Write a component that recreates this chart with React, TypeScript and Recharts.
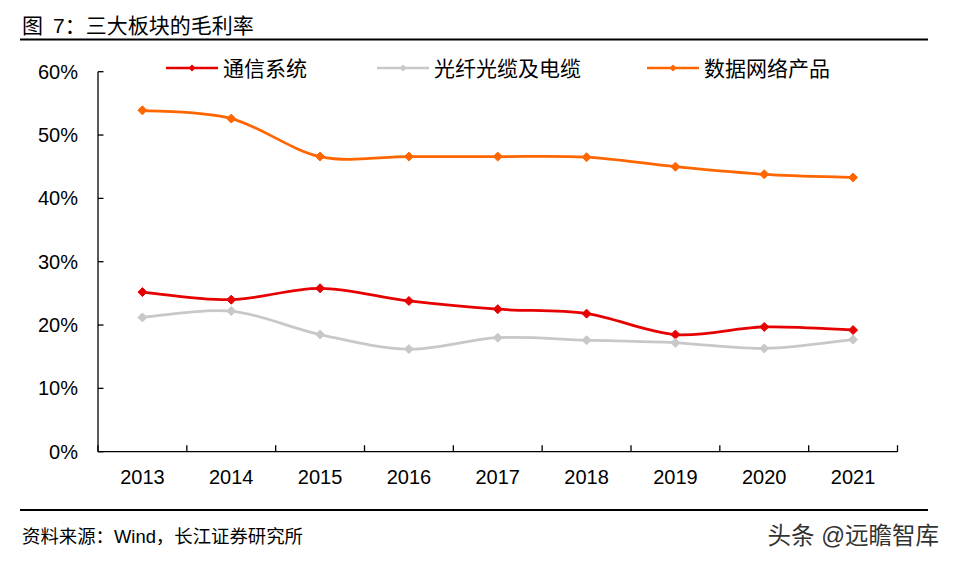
import React from 'react';
import { LineChart, Line, XAxis, YAxis, Legend } from 'recharts';

const years = ['2013', '2014', '2015', '2016', '2017', '2018', '2019', '2020', '2021'];
const commSystem = [25.2, 24.0, 25.8, 23.8, 22.5, 21.8, 18.5, 19.7, 19.2];
const fiberCable = [21.2, 22.2, 18.5, 16.2, 18.0, 17.6, 17.2, 16.3, 17.7];
const dataNetwork = [53.9, 52.6, 46.6, 46.6, 46.6, 46.5, 45.0, 43.8, 43.3];
const yTicks = [0, 10, 20, 30, 40, 50, 60];
const seriesNames = ['通信系统', '光纤光缆及电缆', '数据网络产品'];
const seriesColors = ['#E60000', '#C8C8C8', '#FF6600'];

const data = years.map((year, i) => ({
  idx: i,
  year,
  comm: commSystem[i],
  fiber: fiberCable[i],
  dataNet: dataNetwork[i],
}));

const xTicks: number[] = [];
years.forEach((_, i) => {
  xTicks.push(i - 0.5);
  xTicks.push(i);
});
xTicks.push(years.length - 0.5);

const FONT = "'Liberation Sans', Arial, 'Noto Sans CJK SC', sans-serif";

// Excel-like smoothing (Catmull-Rom through every point)
const smoothCurve: any = (context: any) => {
  let pts: [number, number][] = [];
  return {
    areaStart() {},
    areaEnd() {},
    lineStart() {
      pts = [];
    },
    lineEnd() {
      const n = pts.length;
      if (!n) return;
      context.moveTo(pts[0][0], pts[0][1]);
      for (let i = 0; i < n - 1; i++) {
        const p0 = pts[i > 0 ? i - 1 : 0];
        const p1 = pts[i];
        const p2 = pts[i + 1];
        const p3 = pts[i + 2 < n ? i + 2 : n - 1];
        const c1x = p1[0] + (p2[0] - p0[0]) / 6;
        const c1y = p1[1] + (p2[1] - p0[1]) / 6;
        const c2x = p2[0] - (p3[0] - p1[0]) / 6;
        const c2y = p2[1] - (p3[1] - p1[1]) / 6;
        context.bezierCurveTo(c1x, c1y, c2x, c2y, p2[0], p2[1]);
      }
    },
    point(x: number, y: number) {
      pts.push([+x, +y]);
    },
  };
};

const makeDiamond = (color: string, r: number) => (props: any) => {
  const { cx, cy, index } = props;
  if (cx == null || cy == null) return <g key={index} />;
  return (
    <polygon
      key={index}
      points={`${cx},${cy - r} ${cx + r},${cy} ${cx},${cy + r} ${cx - r},${cy}`}
      fill={color}
      stroke={color}
      strokeWidth={1}
    />
  );
};

const XTick = (props: any) => {
  const { x, y, payload } = props;
  const v = payload.value;
  if (Number.isInteger(v)) {
    return (
      <text x={x} y={y + 25} dy="0.35em" textAnchor="middle" fontSize={20} fill="#000" fontFamily={FONT}>
        {years[v]}
      </text>
    );
  }
  return <line x1={x} x2={x} y1={y} y2={y - 6.5} stroke="#000" strokeWidth={1.3} />;
};

const YTick = (props: any) => {
  const { x, y, payload } = props;
  return (
    <g>
      <text x={x - 20} y={y} dy="0.35em" textAnchor="end" fontSize={20} fill="#000" fontFamily={FONT}>
        {`${payload.value}%`}
      </text>
      <line x1={x} x2={x + 5.5} y1={y} y2={y} stroke="#000" strokeWidth={1.3} />
    </g>
  );
};

const legendX = [166, 377, 647];

const LegendContent = () => {
  return (
    <svg width={955} height={32} style={{ display: 'block' }}>
      {seriesNames.map((name, i) => {
        const x0 = legendX[i];
        const c = seriesColors[i];
        return (
          <g key={i}>
            <line x1={x0} x2={x0 + 52} y1={16} y2={16} stroke={c} strokeWidth={2.6} />
            <polygon points={`${x0 + 26},${12.5} ${x0 + 29.5},16 ${x0 + 26},${19.5} ${x0 + 22.5},16`} fill={c} />
            <text x={x0 + 57} y={16} dy="0.36em" fontSize={21} fill="#000" fontFamily={FONT}>
              {name}
            </text>
          </g>
        );
      })}
    </svg>
  );
};

export default function App() {
  return (
    <div style={{ position: 'absolute', left: 0, top: 0, width: 955, height: 563, background: '#fff' }}>
      <svg width={955} height={563} style={{ position: 'absolute', left: 0, top: 0 }}>
        <text y={33} fontSize={21} fill="#000" fontFamily={FONT}>
          <tspan x={22}>图</tspan>
          <tspan x={53}>7：三大板块的毛利率</tspan>
        </text>
        <line x1={20} x2={928} y1={39.5} y2={39.5} stroke="#000" strokeWidth={2.2} />
        <line x1={20} x2={928} y1={510} y2={510} stroke="#000" strokeWidth={2.2} />
        <text x={22} y={543} fontSize={18.4} fill="#000" fontFamily={FONT}>
          资料来源：Wind，长江证券研究所
        </text>
        <text x={939} y={544} fontSize={23.5} fill="#333" textAnchor="end" fontFamily={FONT}>
          头条 @远瞻智库
        </text>
      </svg>
      <div style={{ position: 'absolute', left: 0, top: 0 }}>
        <LineChart
          width={955}
          height={563}
          data={data}
          margin={{ top: 71.7, right: 57.5, left: 0, bottom: 81.3 }}
        >
          <XAxis
            type="number"
            dataKey="idx"
            domain={[-0.5, years.length - 0.5]}
            ticks={xTicks}
            interval={0}
            tickLine={false}
            tickSize={0}
            tickMargin={0}
            tick={<XTick />}
            axisLine={{ stroke: '#000', strokeWidth: 1.3 }}
            height={30}
          />
          <YAxis
            type="number"
            domain={[0, 60]}
            ticks={yTicks}
            interval={0}
            tickLine={false}
            tickSize={0}
            tickMargin={0}
            tick={<YTick />}
            axisLine={{ stroke: '#000', strokeWidth: 1.3 }}
            width={98}
          />
          <Legend
            layout="horizontal"
            verticalAlign="middle"
            align="center"
            wrapperStyle={{ top: 51.7, left: 0, width: 955, height: 32 }}
            content={<LegendContent />}
          />
          <Line
            dataKey="comm"
            name={seriesNames[0]}
            stroke={seriesColors[0]}
            strokeWidth={2.75}
            type={smoothCurve}
            dot={makeDiamond(seriesColors[0], 4.5)}
            activeDot={false}
            isAnimationActive={false}
          />
          <Line
            dataKey="fiber"
            name={seriesNames[1]}
            stroke={seriesColors[1]}
            strokeWidth={2.75}
            type={smoothCurve}
            dot={makeDiamond(seriesColors[1], 4.5)}
            activeDot={false}
            isAnimationActive={false}
          />
          <Line
            dataKey="dataNet"
            name={seriesNames[2]}
            stroke={seriesColors[2]}
            strokeWidth={2.75}
            type={smoothCurve}
            dot={makeDiamond(seriesColors[2], 4.5)}
            activeDot={false}
            isAnimationActive={false}
          />
        </LineChart>
      </div>
    </div>
  );
}
